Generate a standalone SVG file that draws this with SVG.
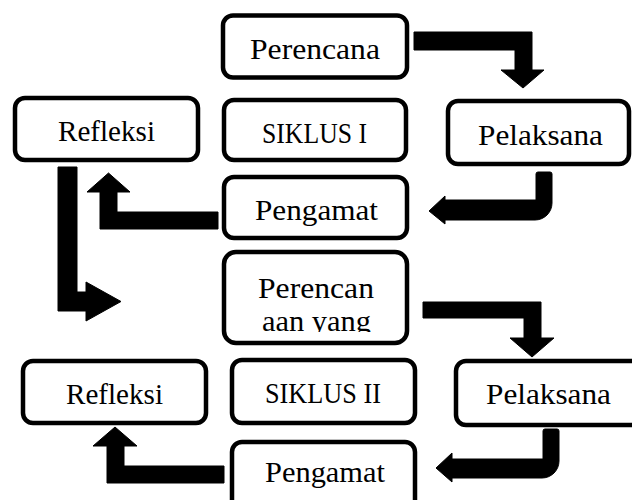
<svg xmlns="http://www.w3.org/2000/svg" width="632" height="500" viewBox="0 0 632 500">
<style>
.box{fill:#fff;stroke:#000;stroke-width:4.5}
.lbl{font-family:"Liberation Serif","Times New Roman",serif;font-size:30px;fill:#000;text-anchor:middle}
.arr{fill:#000;stroke:#000;stroke-width:1;stroke-linejoin:round}
</style>
<defs>
<clipPath id="clipP2"><rect x="224" y="252" width="183" height="80"/></clipPath>
<clipPath id="clipG2"><rect x="232" y="442" width="183" height="48"/></clipPath>
</defs>
<rect width="632" height="500" fill="#fff"/>
<g id="connectors">
<polygon class="arr" points="414,32 532,32 532,70 544,70 523,88 501,70 515,70 515,50 414,50"/>
<path class="arr" d="M536,174 Q536,172 538,172 L550,172 Q552,172 552,174 L552,203 A17,17 0 0 1 535,220 L445,220 L445,224 L429,211 L445,196 L445,200 L536,200 Z"/>
<polygon class="arr" points="218,212 218,229 100,229 100,192 87,192 108.5,173 130,192 117,192 117,212"/>
<polygon class="arr" points="58,167 77,167 77,292 86,292 86,282 121,301.5 86,321 86,311 58,311"/>
<polygon class="arr" points="423,302 541,302 541,338 554,338 532,357 510,338 524,338 524,318 423,318"/>
<path class="arr" d="M543,431 Q543,429 545,429 L557,429 Q559,429 559,431 L559,461 A17,17 0 0 1 542,478 L452,478 L452,482 L436,468 L452,453 L452,459 L543,459 Z"/>
<polygon class="arr" points="224,466 224,483 107,483 107,446 93,446 115,427 137,446 124,446 124,466"/>
</g>
<g id="perencana1">
<rect class="box" x="223" y="15.5" width="184" height="62" rx="10"/>
<text class="lbl" x="315" y="59" textLength="130" lengthAdjust="spacingAndGlyphs">Perencana</text>
</g>
<g id="refleksi1">
<rect class="box" x="15" y="98" width="183" height="62" rx="10"/>
<text class="lbl" x="106.5" y="141" textLength="97" lengthAdjust="spacingAndGlyphs">Refleksi</text>
</g>
<g id="siklus1">
<rect class="box" x="224" y="100" width="182" height="60" rx="10"/>
<text class="lbl" x="314.5" y="143" textLength="105" lengthAdjust="spacingAndGlyphs">SIKLUS I</text>
</g>
<g id="pelaksana1">
<rect class="box" x="448" y="101" width="181" height="63" rx="10"/>
<text class="lbl" x="540.5" y="145" textLength="125" lengthAdjust="spacingAndGlyphs">Pelaksana</text>
</g>
<g id="pengamat1">
<rect class="box" x="224" y="177" width="183" height="61" rx="10"/>
<text class="lbl" x="316.5" y="220" textLength="123" lengthAdjust="spacingAndGlyphs">Pengamat</text>
</g>
<g id="perencanaan2">
<rect class="box" x="224" y="252" width="183" height="91" rx="12"/>
<g clip-path="url(#clipP2)">
<text class="lbl" x="316" y="298" textLength="116" lengthAdjust="spacingAndGlyphs">Perencan</text>
<text class="lbl" x="316.5" y="331" textLength="109" lengthAdjust="spacingAndGlyphs">aan yang</text>
</g>
</g>
<g id="refleksi2">
<rect class="box" x="23" y="361" width="183" height="62" rx="10"/>
<text class="lbl" x="114.5" y="404" textLength="97" lengthAdjust="spacingAndGlyphs">Refleksi</text>
</g>
<g id="siklus2">
<rect class="box" x="232" y="360" width="183" height="63" rx="10"/>
<text class="lbl" x="323" y="403" textLength="116" lengthAdjust="spacingAndGlyphs">SIKLUS II</text>
</g>
<g id="pelaksana2">
<rect class="box" x="456" y="361" width="200" height="64" rx="10"/>
<text class="lbl" x="548.5" y="404" textLength="125" lengthAdjust="spacingAndGlyphs">Pelaksana</text>
</g>
<g id="pengamat2">
<rect class="box" x="232" y="442" width="183" height="70" rx="10"/>
<g clip-path="url(#clipG2)">
<text class="lbl" x="325" y="482" textLength="120" lengthAdjust="spacingAndGlyphs">Pengamat</text>
</g>
</g>
</svg>
